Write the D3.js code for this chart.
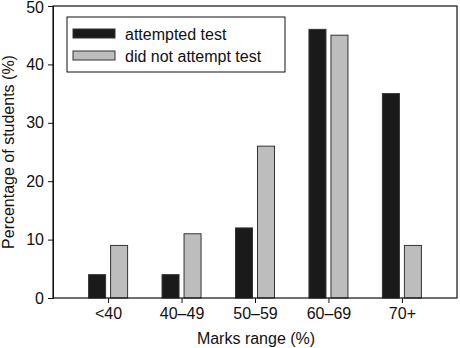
<!DOCTYPE html>
<html>
<head>
<meta charset="utf-8">
<script src="https://cdn.jsdelivr.net/npm/d3@7"></script>
<style>
  html, body { margin: 0; padding: 0; background: #fff; }
  svg { display: block; }
  text { font-family: "Liberation Sans", Arial, Helvetica, sans-serif; fill: #111; }
</style>
</head>
<body>
<svg id="chart" width="460" height="348"></svg>
<script>
const categories = ["<40", "40–49", "50–59", "60–69", "70+"];
const seriesNames = ["attempted test", "did not attempt test"];
const attempted = [4, 4, 12, 46, 35];
const notAttempted = [9, 11, 26, 45, 9];
const yTicks = [0, 10, 20, 30, 40, 50];
const colors = ["#1a1a1a", "#bdbdbd"];
const FS = 16;

const svg = d3.select("#chart");
const margin = {left: 53, right: 3, top: 6, bottom: 50};
const W = 460, H = 348;
const x0 = margin.left, x1 = W - margin.right, yTop = margin.top, yBot = H - margin.bottom;

const x = d3.scalePoint().domain(categories).range([x0, x1]).padding(0.75);
const xs = d3.scaleBand().domain(seriesNames).range([-19.5, 19.5]).paddingInner(0.227);
const y = d3.scaleLinear().domain([0, 50]).range([yBot, yTop]);

const data = categories.map((c, i) => ({cat: c, vals: [attempted[i], notAttempted[i]]}));

// bars
const g = svg.append("g");
data.forEach(d => {
  d.vals.forEach((v, j) => {
    g.append("rect")
      .attr("x", x(d.cat) + xs(seriesNames[j]))
      .attr("y", y(v))
      .attr("width", xs.bandwidth())
      .attr("height", y(0) - y(v))
      .attr("fill", colors[j])
      .attr("stroke", "#333")
      .attr("stroke-width", 1);
  });
});

// frame
svg.append("rect")
  .attr("x", x0).attr("y", yTop)
  .attr("width", x1 - x0).attr("height", yBot - yTop)
  .attr("fill", "none").attr("stroke", "#111").attr("stroke-width", 1.2);

// y axis
const yAxis = d3.axisLeft(y).tickValues(yTicks).tickSize(5).tickPadding(4);
const ya = svg.append("g").attr("transform", `translate(${x0},0)`).call(yAxis);
ya.select(".domain").attr("stroke", "#111");
ya.selectAll(".tick line").attr("stroke", "#111");
ya.selectAll(".tick text").attr("font-size", FS).attr("fill", "#111")
  .style("font-family", "'Liberation Sans', Arial, sans-serif")
  .attr("dy", d => d === 50 ? "0.4em" : "0.32em");

// x axis
const xAxis = d3.axisBottom(x).tickSize(5).tickPadding(5);
const xa = svg.append("g").attr("transform", `translate(0,${yBot})`).call(xAxis);
xa.select(".domain").remove();
xa.selectAll(".tick line").attr("stroke", "#111");
xa.selectAll(".tick text").attr("font-size", FS).attr("fill", "#111")
  .style("font-family", "'Liberation Sans', Arial, sans-serif");

// axis titles
svg.append("text")
  .attr("x", 256).attr("y", 344)
  .attr("text-anchor", "middle").attr("font-size", FS)
  .text("Marks range (%)");
svg.append("text")
  .attr("transform", `translate(13.5,${(yTop + yBot) / 2}) rotate(-90)`)
  .attr("text-anchor", "middle").attr("font-size", FS)
  .text("Percentage of students (%)");

// legend
const lg = svg.append("g");
lg.append("rect").attr("x", 67).attr("y", 17).attr("width", 218).attr("height", 55)
  .attr("fill", "#fff").attr("stroke", "#111").attr("stroke-width", 1);
seriesNames.forEach((s, j) => {
  lg.append("rect").attr("x", 73).attr("y", 29 + j * 22).attr("width", 42).attr("height", 9)
    .attr("fill", colors[j]).attr("stroke", "#333").attr("stroke-width", 1);
  lg.append("text").attr("x", 125).attr("y", 39.5 + j * 22).attr("font-size", FS).text(s);
});
</script>
</body>
</html>
